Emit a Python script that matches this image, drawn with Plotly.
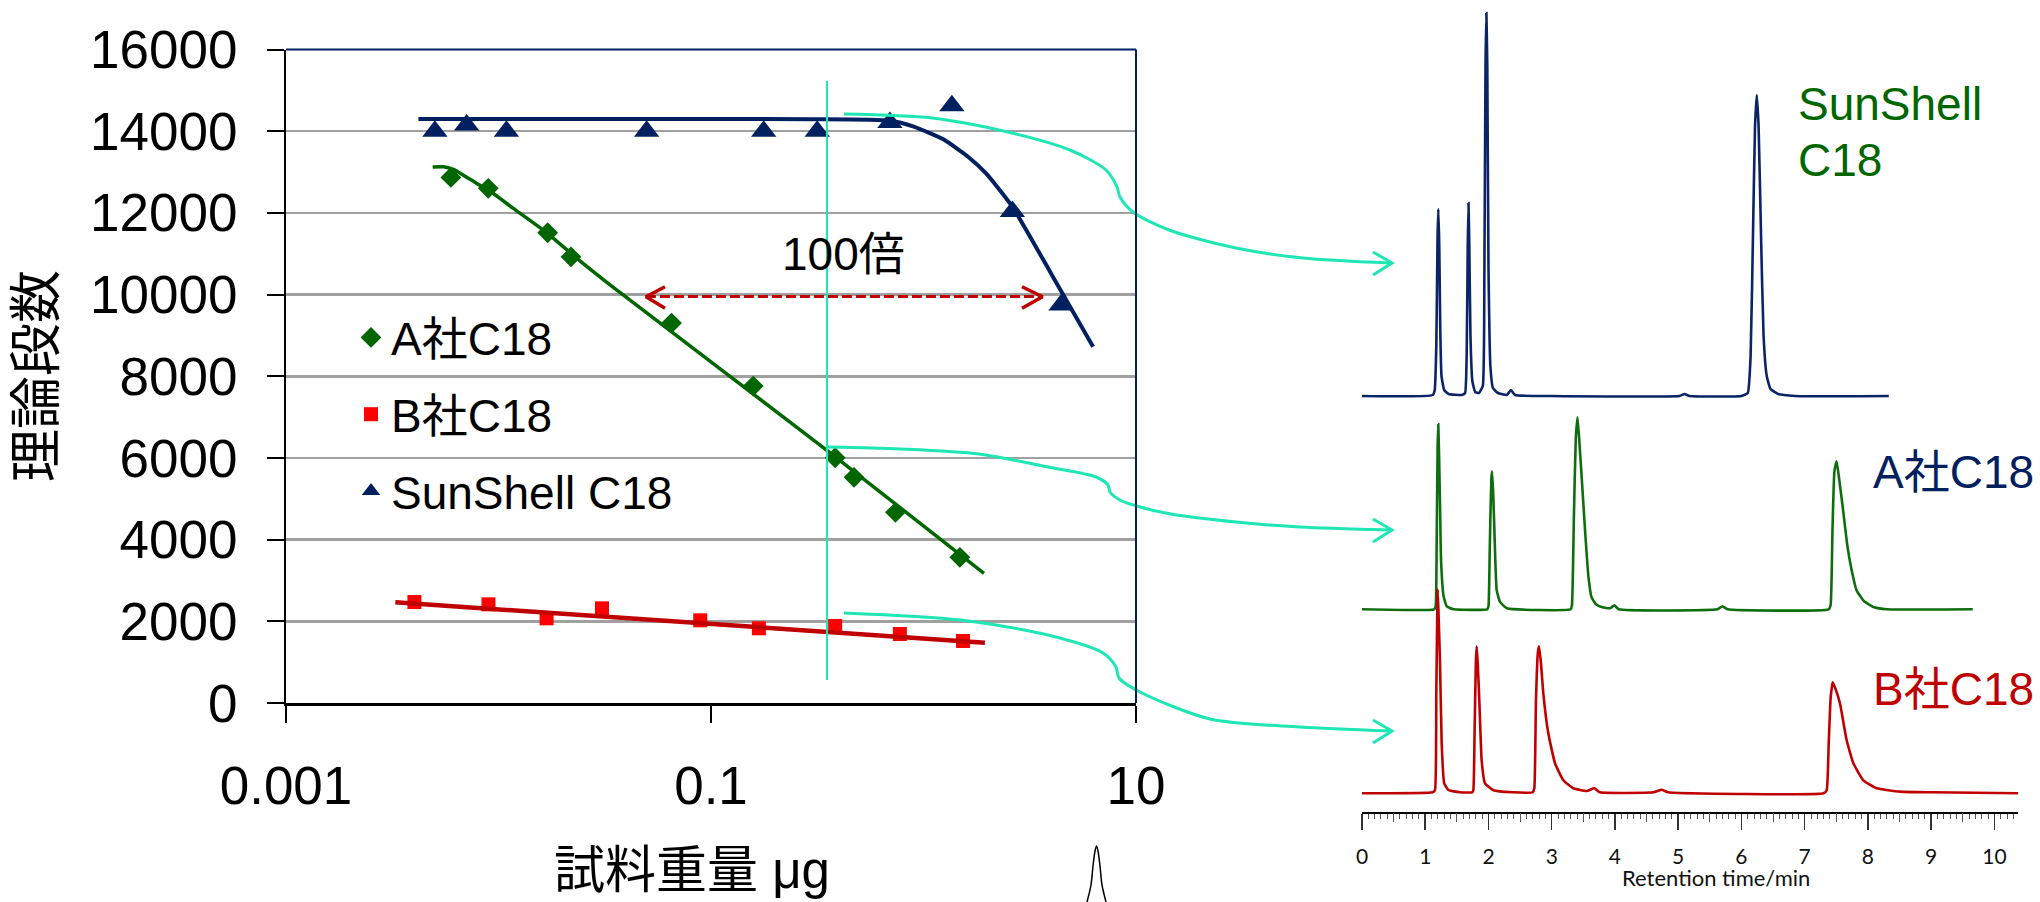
import plotly.graph_objects as go

W, H = 2040, 902
FONT = "Liberation Sans, Noto Sans CJK JP, sans-serif"
NAVY = "#002060"
GREEN = "#006600"
RED_M = "#FF0000"
RED_L = "#C00000"
CYAN = "#1EE6B4"

# ---------------- main chart data (sample weight in ug vs plate number) ----------------
a_x = [0.00597, 0.00895, 0.01704, 0.02193, 0.0652, 0.158, 0.384, 0.471, 0.738, 1.483]
a_y = [12869, 12600, 11513, 10925, 9302, 7760, 6005, 5525, 4668, 3567]
b_x = [0.00402, 0.00897, 0.01684, 0.0307, 0.0890, 0.168, 0.384, 0.774, 1.534]
b_y = [2472, 2416, 2073, 2318, 2024, 1829, 1885, 1689, 1518]
s_x = [0.00502, 0.00708, 0.0109, 0.0498, 0.177, 0.316, 0.695, 1.36, 2.62, 4.44]
s_y = [14000, 14150, 14000, 14000, 14000, 14000, 14215, 14625, 12036, 9743]

# trend curves
a_fit_x = [0.0049, 0.0055, 0.00613, 0.00683, 0.00789, 0.00896, 0.01174, 0.01686, 0.02418,
           0.0347, 0.350, 1.926]
a_fit_y = [13121, 13129, 13064, 12924, 12722, 12558, 12110, 11513, 10827,
           10176, 6193, 3175]
b_fit_x = [0.00327, 1.945]
b_fit_y = [2465, 1477]
s_fit_x = [0.0042, 0.05, 0.3, 0.695, 0.90, 1.24, 1.62, 1.97, 2.62, 4.0, 6.28]
s_fit_y = [14300, 14300, 14295, 14260, 14110, 13800, 13375, 12965, 12150, 10500, 8720]

# 100x comparison arrow (y = 10000 level)
fold_x = [0.0494, 3.63]
fold_y = [9950, 9950]

x_ticks = [0.001, 0.1, 10]
x_tick_text = ["0.001", "0.1", "10"]
y_ticks = [0, 2000, 4000, 6000, 8000, 10000, 12000, 14000, 16000]
y_tick_text = ["0", "2000", "4000", "6000", "8000", "10000", "12000", "14000", "16000"]

# ---------------- chromatograms (time/min, signal above baseline) ----------------
sun_pts = [(-0.01, 0), (1.12, 1), (1.15, 6), (1.175, 50), (1.195, 160), (1.207, 187), (1.222, 150),
           (1.237, 70), (1.257, 20), (1.30, 6), (1.37, 2), (1.58, 1),
           (1.63, 3), (1.655, 40), (1.672, 150), (1.684, 193), (1.697, 150), (1.715, 60), (1.745, 15),
           (1.79, 4), (1.85, 3),
           (1.91, 10), (1.935, 120), (1.953, 330), (1.967, 383), (1.981, 330), (2.00, 130), (2.03, 30),
           (2.07, 8), (2.15, 3),
           (2.29, 1), (2.356, 6), (2.42, 1), (3.0, 0), (5.02, 0), (5.10, 2), (5.18, 0),
           (6.00, 0), (6.10, 3), (6.145, 40), (6.185, 170), (6.215, 270), (6.243, 301), (6.271, 270),
           (6.31, 160), (6.35, 60), (6.40, 20), (6.46, 7), (6.58, 2), (6.85, 0), (8.33, 0)]
a_pts = [(0.0, 0), (1.14, 0), (1.165, 3), (1.18, 60), (1.195, 160), (1.206, 185), (1.22, 150),
         (1.235, 100), (1.25, 49), (1.29, 13), (1.34, 3), (1.45, 0),
         (1.98, 0), (2.00, 3), (2.02, 60), (2.045, 130), (2.057, 138), (2.075, 115), (2.095, 76),
         (2.11, 45), (2.13, 19), (2.18, 7.7), (2.29, 1),
         (3.30, 0), (3.32, 4), (3.35, 90), (3.38, 170), (3.408, 192), (3.44, 165), (3.48, 126),
         (3.53, 76), (3.58, 33), (3.63, 12), (3.70, 5), (3.80, 2), (3.92, 1), (3.99, 4), (4.06, 0),
         (5.62, 0), (5.70, 3), (5.78, 0),
         (7.38, 0), (7.41, 4), (7.44, 80), (7.47, 138), (7.505, 148), (7.55, 128), (7.60, 103),
         (7.676, 63), (7.74, 40), (7.82, 19), (7.94, 8), (8.10, 2), (8.30, 0), (9.657, 0)]
b_pts = [(0.0, 0), (1.12, 1), (1.154, 3), (1.175, 100), (1.197, 204), (1.215, 170), (1.233, 133),
         (1.26, 50), (1.30, 10), (1.365, 3.3), (1.55, 1),
         (1.74, 1), (1.76, 3), (1.78, 60), (1.80, 130), (1.813, 147), (1.83, 130), (1.855, 93),
         (1.892, 33), (1.945, 10), (2.077, 3), (2.39, 1),
         (2.70, 1), (2.725, 5), (2.75, 90), (2.78, 140), (2.799, 147), (2.83, 130), (2.867, 100),
         (2.946, 60), (3.052, 30), (3.184, 13), (3.342, 5), (3.553, 2.3), (3.674, 5), (3.764, 1),
         (4.61, 1), (4.739, 3.5), (4.844, 1),
         (7.30, 0), (7.348, 3), (7.38, 50), (7.41, 95), (7.443, 111), (7.49, 104), (7.558, 90),
         (7.664, 53), (7.77, 30), (7.927, 13), (8.139, 5), (8.507, 1.7), (9.0, 1), (10.378, 0)]
chrom_offsets = {"sun": 416.3, "a": 203.0, "b": 19.0}
t_ticks_half = [0.5, 1.5, 2.5, 3.5, 4.5, 5.5, 6.5, 7.5, 8.5, 9.5]

# ---------------- decoration paths (figure pixel coordinates) ----------------
guide_x = [827, 827]
guide_y = [81, 680]
arrow1 = [(844, 114), (932, 118), (1012, 133), (1070, 150), (1106, 170), (1117, 187), (1120, 197),
          (1133, 212), (1169, 230), (1236, 248), (1303, 258), (1390, 263)]
arrow2 = [(827, 447), (900, 449), (979, 454), (1048, 467), (1096, 477), (1108, 485), (1110, 492),
          (1120, 500), (1140, 507), (1171, 514), (1236, 522), (1300, 527), (1390, 530)]
arrow3 = [(844, 613), (960, 620), (1048, 635), (1103, 653), (1116, 667), (1119, 678), (1140, 692),
          (1210, 719), (1300, 727), (1390, 731)]
heads = [[(1373, 252), (1392, 263), (1373, 275)],
         [(1373, 519), (1392, 530), (1373, 542)],
         [(1373, 720), (1392, 731), (1373, 743)]]
red_heads = [[(665, 286.7), (646, 296.7), (665, 308.3)],
             [(1022, 286.7), (1042.5, 296.7), (1022, 308.3)]]
stray_peak = [(1087, 902), (1091, 885), (1093, 866), (1095, 851), (1096.5, 846), (1098, 851),
              (1100, 866), (1102, 885), (1106, 902)]

fig = go.Figure()

# legend marker traces
fig.add_trace(go.Scatter(x=a_x, y=a_y, mode="markers", name="A社C18", legendgroup="a",
                         marker=dict(symbol="diamond", size=16, color=GREEN), xaxis="x", yaxis="y"))
fig.add_trace(go.Scatter(x=b_x, y=b_y, mode="markers", name="B社C18", legendgroup="b",
                         marker=dict(symbol="square", size=14, color=RED_M), xaxis="x", yaxis="y"))
fig.add_trace(go.Scatter(x=s_x, y=s_y, mode="markers", name="SunShell C18", legendgroup="s",
                         marker=dict(symbol="triangle-up", size=22, color=NAVY), xaxis="x", yaxis="y"))
# trend lines
fig.add_trace(go.Scatter(x=a_fit_x, y=a_fit_y, mode="lines", showlegend=False,
                         line=dict(color=GREEN, width=3.5, shape="spline", smoothing=0.6)))
fig.add_trace(go.Scatter(x=b_fit_x, y=b_fit_y, mode="lines", showlegend=False,
                         line=dict(color=RED_L, width=4.5)))
fig.add_trace(go.Scatter(x=s_fit_x, y=s_fit_y, mode="lines", showlegend=False,
                         line=dict(color=NAVY, width=4, shape="spline", smoothing=0.5)))
# dashed fold arrow
fig.add_trace(go.Scatter(x=fold_x, y=fold_y, mode="lines", showlegend=False,
                         line=dict(color=RED_L, width=3, dash="10px,4px")))

# chromatograms
for pts, key, col in [(sun_pts, "sun", "#0B2468"), (a_pts, "a", "#0E6E0E"), (b_pts, "b", RED_L)]:
    off = chrom_offsets[key]
    fig.add_trace(go.Scatter(x=[p[0] for p in pts], y=[p[1] + off for p in pts], mode="lines",
                             showlegend=False, line=dict(color=col, width=2.6, shape="spline", smoothing=0.4),
                             xaxis="x2", yaxis="y2"))
# helper trace to register the half-minute tick axis
fig.add_trace(go.Scatter(x=[0], y=[0], mode="markers", marker=dict(opacity=0), showlegend=False,
                         hoverinfo="skip", xaxis="x3", yaxis="y2"))

# decorations in pixel space
def pix(pts, color, width, shape="linear"):
    fig.add_trace(go.Scatter(x=[p[0] for p in pts], y=[p[1] for p in pts], mode="lines",
                             showlegend=False, hoverinfo="skip",
                             line=dict(color=color, width=width, shape=shape, smoothing=0.8),
                             xaxis="x4", yaxis="y4"))

pix(list(zip(guide_x, guide_y)), CYAN, 2)
for arr in (arrow1, arrow2, arrow3):
    pix(arr, CYAN, 3, "spline")
for hd in heads:
    pix(hd, CYAN, 3)
for hd in red_heads:
    pix(hd, RED_L, 3.5)
pix(stray_peak, "#000000", 1.5, "spline")

# ---------------- layout ----------------
main_dom_x = [286 / W, 1136 / W]
main_dom_y = [1 - 703 / H, 1 - 49.5 / H]
chrom_dom_x = [1362 / W, 2018.3 / W]
chrom_dom_y = [1 - 812.3 / H, 1.0]

fig.update_layout(
    width=W, height=H,
    margin=dict(l=0, r=0, t=0, b=0, pad=0, autoexpand=False),
    paper_bgcolor="white", plot_bgcolor="rgba(0,0,0,0)",
    font=dict(family=FONT, color="black"),
    hovermode=False,
    xaxis=dict(type="log", range=[-3, 1], domain=main_dom_x, anchor="y", automargin=False,
               tickvals=x_ticks, ticktext=x_tick_text, ticks="outside", ticklen=17, tickwidth=2,
               tickcolor="black", showline=True, linecolor="black", linewidth=3,
               showgrid=False, zeroline=False, ticklabelstandoff=17,
               tickfont=dict(size=53, family=FONT, color="black")),
    yaxis=dict(range=[0, 16000], domain=main_dom_y, anchor="x", automargin=False,
               tickvals=y_ticks, ticktext=y_tick_text,
               ticks="outside", ticklen=17, tickwidth=2, tickcolor="black",
               showline=True, linecolor="black", linewidth=2,
               showgrid=True, gridcolor="#A0A0A0", gridwidth=2.5, zeroline=False,
               ticklabelstandoff=19, tickfont=dict(size=53, family=FONT, color="black")),
    xaxis2=dict(range=[0, 10.378], domain=chrom_dom_x, anchor="y2", automargin=False, tick0=0, dtick=1,
                ticks="outside", ticklen=16, tickwidth=1.5, tickcolor="#333333",
                showline=True, linecolor="black", linewidth=2, showgrid=False, zeroline=False,
                ticklabelstandoff=8, tickfont=dict(size=21, family="Lato, Open Sans, sans-serif", color="#111111"),
                minor=dict(dtick=0.1, tick0=0, ticks="outside", ticklen=5, tickwidth=1, tickcolor="#555555",
                           showgrid=False)),
    xaxis3=dict(range=[0, 10.378], overlaying="x2", anchor="y2", automargin=False, tickvals=t_ticks_half,
                ticks="outside", ticklen=9, tickwidth=1, tickcolor="#555555", showticklabels=False,
                showline=False, showgrid=False, zeroline=False),
    yaxis2=dict(range=[0, 812.3], domain=chrom_dom_y, anchor="x2", visible=False, automargin=False),
    xaxis4=dict(range=[0, W], domain=[0, 1], anchor="y4", visible=False, automargin=False),
    yaxis4=dict(range=[H, 0], domain=[0, 1], anchor="x4", visible=False, automargin=False),
    legend=dict(x=351 / W, xanchor="left", y=1 - 301 / H, yanchor="top",
                bgcolor="rgba(0,0,0,0)", font=dict(size=46, family=FONT, color="black"),
                tracegroupgap=14, itemwidth=30),
    shapes=[
        dict(type="line", xref="x domain", yref="y domain", x0=0, x1=1, y0=1, y1=1,
             line=dict(color=NAVY, width=2)),
        dict(type="line", xref="x domain", yref="y domain", x0=1, x1=1, y0=0, y1=1,
             line=dict(color=NAVY, width=2)),
    ],
    annotations=[
        dict(text="理論段数", x=36 / W, y=1 - 376 / H, xref="paper", yref="paper", showarrow=False,
             textangle=-90, font=dict(size=53, family=FONT, color="black"), xanchor="center", yanchor="middle"),
        dict(text="試料重量 μg", x=692 / W, y=1 - 870 / H, xref="paper", yref="paper", showarrow=False,
             font=dict(size=51, family=FONT, color="black"), xanchor="center", yanchor="middle"),
        dict(text="100倍", x=843 / W, y=1 - 254 / H, xref="paper", yref="paper", showarrow=False,
             font=dict(size=46, family=FONT, color="black"), xanchor="center", yanchor="middle"),
        dict(text="SunShell", x=1796 / W, y=1 - 104 / H, xref="paper", yref="paper", showarrow=False,
             font=dict(size=46, family=FONT, color=GREEN), xanchor="left", yanchor="middle"),
        dict(text="C18", x=1796 / W, y=1 - 160 / H, xref="paper", yref="paper", showarrow=False,
             font=dict(size=46, family=FONT, color=GREEN), xanchor="left", yanchor="middle"),
        dict(text="A社C18", x=2036 / W, y=1 - 472 / H, xref="paper", yref="paper", showarrow=False,
             font=dict(size=46, family=FONT, color=NAVY), xanchor="right", yanchor="middle"),
        dict(text="B社C18", x=2036 / W, y=1 - 689 / H, xref="paper", yref="paper", showarrow=False,
             font=dict(size=46, family=FONT, color=RED_L), xanchor="right", yanchor="middle"),
        dict(text="Retention time/min", x=1716 / W, y=1 - 877 / H, xref="paper", yref="paper",
             showarrow=False, font=dict(size=22, family="Lato, Open Sans, sans-serif", color="#111111"),
             xanchor="center", yanchor="middle"),
    ],
)

fig.write_html("out.html", config={"displayModeBar": False, "staticPlot": True},
               post_script="document.body.style.margin='0';document.body.style.padding='0';"
                           "document.body.style.overflow='hidden';")
